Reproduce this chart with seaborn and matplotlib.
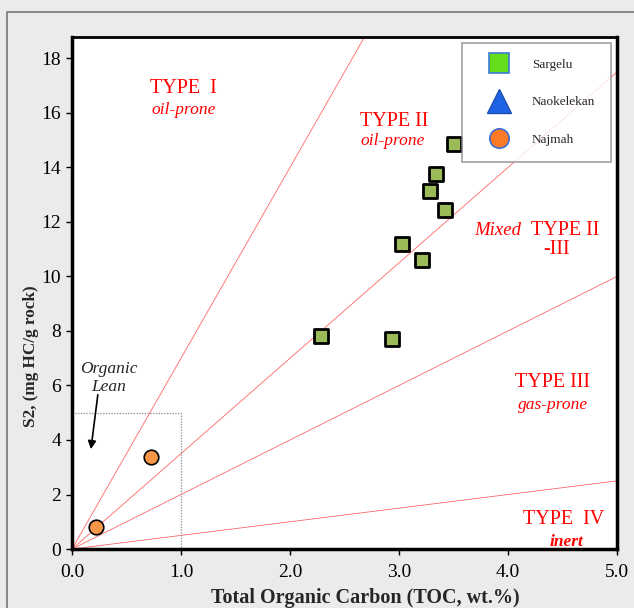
import seaborn as sns
import matplotlib.pyplot as plt
from matplotlib.lines import Line2D
import pandas as pd

#### data
sargelu_toc = [3.50, 3.34, 3.28, 3.42, 3.03, 3.21, 2.28, 2.94]
sargelu_s2 = [14.85, 13.75, 13.15, 12.45, 11.2, 10.6, 7.8, 7.7]
najmah_toc = [0.22, 0.72]
najmah_s2 = [0.80, 3.37]

# HI boundaries (S2/TOC) drawn from the origin
slopes = [7.0, 3.5, 2.0, 0.5]
lean_toc = 1.0
lean_s2 = 5.0

xticks = [0, 1, 2, 3, 4, 5]
yticks = [0, 2, 4, 6, 8, 10, 12, 14, 16, 18]
##################

sns.set_style("white")
plt.rcParams['font.family'] = ['Liberation Serif', 'DejaVu Serif']

fig = plt.figure(figsize=(6.34, 6.08), dpi=100, facecolor='#ebebeb')
ax = fig.add_axes([0.1136, 0.097, 0.8596, 0.842])
ax.set_facecolor('white')

# outer frame of the picture
fig.add_artist(plt.Rectangle((0.011, -0.05), 1.2, 1.03, transform=fig.transFigure,
                             fill=False, edgecolor='#777777', lw=1.2))

for s in slopes:
    ax.axline((0, 0), slope=s, color='#ff6666', lw=0.6, zorder=1)

# organic lean box
ax.plot([0, lean_toc, lean_toc], [lean_s2, lean_s2, 0], color='#999999', lw=1.0,
        ls=(0, (1, 1)), zorder=1)

df_s = pd.DataFrame({'toc': sargelu_toc, 's2': sargelu_s2})
df_n = pd.DataFrame({'toc': najmah_toc, 's2': najmah_s2})
sns.scatterplot(data=df_s, x='toc', y='s2', marker='s', s=95, color='#9bbb59',
                edgecolor='black', linewidth=2.0, ax=ax, zorder=5)
sns.scatterplot(data=df_n, x='toc', y='s2', marker='o', s=110, color='#f79646',
                edgecolor='black', linewidth=1.2, ax=ax, zorder=5)

ax.set_xlim(0, 5)
ax.set_ylim(0, 18.78)
ax.set_xticks(xticks)
ax.set_xticklabels(["%.1f" % v for v in xticks])
ax.set_yticks(yticks)
ax.tick_params(axis='both', labelsize=14, direction='out', length=4, width=1,
               left=True, bottom=True, colors='black')
ax.tick_params(axis='x', pad=7)
ax.tick_params(axis='y', pad=4)
for sp in ax.spines.values():
    sp.set_color('black')
    sp.set_linewidth(2.5)
ax.spines['top'].set_linewidth(2.0)

ax.set_xlabel("Total Organic Carbon (TOC, wt.%)", fontsize=14.5, fontweight='bold')
ax.set_ylabel("S2, (mg HC/g rock)", fontsize=12.3, fontweight='bold')
ax.xaxis.set_label_coords(0.539, -0.076)
ax.yaxis.set_label_coords(-0.06, 0.377)

red = '#ff0000'
big, small = 14.5, 12.5
ax.text(1.02, 16.9, "TYPE  I", color=red, fontsize=big, ha='center', va='center')
ax.text(1.02, 16.1, "oil-prone", color=red, fontsize=small, style='italic', ha='center', va='center')
ax.text(2.96, 15.7, "TYPE II", color=red, fontsize=big, ha='center', va='center')
ax.text(2.94, 14.95, "oil-prone", color=red, fontsize=small, style='italic', ha='center', va='center')
ax.text(3.91, 11.7, "Mixed", color=red, fontsize=13.5, style='italic', ha='center', va='center')
ax.text(4.52, 11.7, "TYPE II", color=red, fontsize=big, ha='center', va='center')
ax.text(4.45, 11.0, "-III", color=red, fontsize=big, ha='center', va='center')
ax.text(4.41, 6.1, "TYPE III", color=red, fontsize=big, ha='center', va='center')
ax.text(4.41, 5.3, "gas-prone", color=red, fontsize=small, style='italic', ha='center', va='center')
ax.text(4.51, 1.1, "TYPE  IV", color=red, fontsize=big, ha='center', va='center')
ax.text(4.54, 0.27, "inert", color=red, fontsize=small, style='italic', fontweight='bold',
        ha='center', va='center')

ax.text(0.34, 6.6, "Organic", fontsize=12.5, style='italic', ha='center', va='center')
ax.text(0.34, 5.93, "Lean", fontsize=12.5, style='italic', ha='center', va='center')
ax.annotate("", xy=(0.17, 3.56), xytext=(0.24, 5.76),
            arrowprops=dict(arrowstyle='-|>', color='black', lw=1.2, mutation_scale=12))

handles = [
    Line2D([], [], ls='', marker='s', markersize=15, markerfacecolor='#66dd1a',
           markeredgecolor='#3b7bd9', markeredgewidth=1.2),
    Line2D([], [], ls='', marker='^', markersize=17, markerfacecolor='#1e63e6',
           markeredgecolor='#1e4fb0', markeredgewidth=1.0),
    Line2D([], [], ls='', marker='o', markersize=14, markerfacecolor='#fb7a26',
           markeredgecolor='#3b6fd9', markeredgewidth=1.2),
]
leg = ax.legend(handles, ["Sargelu", "Naokelekan", "Najmah"], loc='upper right',
                bbox_to_anchor=(1.0, 1.0), fontsize=9.5, frameon=True, fancybox=False,
                edgecolor='#888888', borderpad=1.2, labelspacing=1.9,
                handletextpad=0.97, borderaxespad=0.45, handlelength=3.1)
leg.get_frame().set_linewidth(1.2)

fig.savefig("out.png", dpi=100, facecolor=fig.get_facecolor())
